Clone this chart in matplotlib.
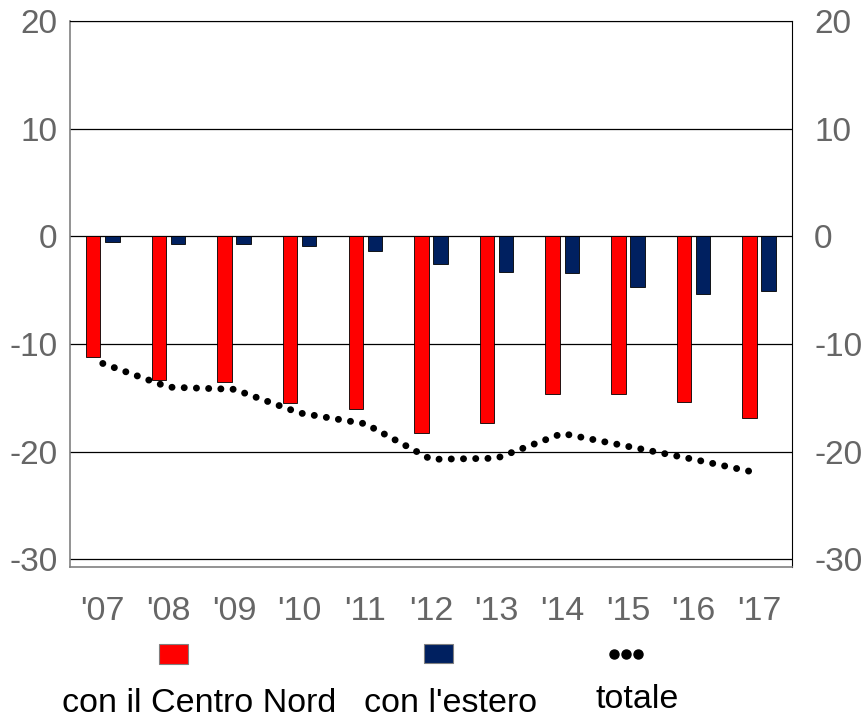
import matplotlib
matplotlib.use("Agg")
import matplotlib.pyplot as plt
from matplotlib.lines import Line2D
from matplotlib.patches import Rectangle

# values
years = ["'07", "'08", "'09", "'10", "'11", "'12", "'13", "'14", "'15", "'16", "'17"]
centro_nord = [-11.2, -13.3, -13.5, -15.5, -16.0, -18.3, -17.3, -14.6, -14.6, -15.4, -16.9]
estero = [-0.5, -0.7, -0.7, -0.85, -1.4, -2.6, -3.3, -3.4, -4.7, -5.35, -5.1]
totale = [-11.8, -14.0, -14.2, -16.4, -17.4, -20.7, -20.6, -18.3, -19.5, -20.7, -22.0]
y_ticks = [-30, -20, -10, 0, 10, 20]
legend_labels = ["con il Centro Nord", "con l'estero", "totale"]

RED = "#ff0000"
NAVY = "#002060"
TICK_GREY = "#666666"
SPINE_GREY = "#808080"
FONT = ["Liberation Sans", "Arial", "DejaVu Sans"]
DOTS = dict(color="black", linewidth=5, linestyle=(0, (0.01, 1.75)),
            dash_capstyle="round")

plt.rcParams["font.family"] = FONT
plt.rcParams["axes.unicode_minus"] = False

fig = plt.figure(figsize=(8.66, 7.19), dpi=100, facecolor="white")
ax = fig.add_axes([0.0808, 0.2114, 0.8337, 0.7594])

x = list(range(len(years)))
w = 0.22
ax.bar([i - 0.145 for i in x], centro_nord, width=w, color=RED,
       edgecolor="black", linewidth=0.6, zorder=2)
ax.bar([i + 0.145 for i in x], estero, width=w, color=NAVY,
       edgecolor="black", linewidth=0.6, zorder=2)
ax.plot(x, totale, zorder=3, **DOTS)

ax.set_xlim(-0.5, len(years) - 0.5)
ax.set_ylim(-30.7, 20)
ax.set_yticks(y_ticks)
ax.set_xticks(x)
ax.set_xticklabels(years)
ax.yaxis.grid(True, color="black", linewidth=0.9, zorder=0)
ax.set_axisbelow(True)
ax.tick_params(axis="x", length=0, pad=21, labelsize=24.5, labelcolor=TICK_GREY)
ax.tick_params(axis="y", length=0, pad=9, labelsize=24, labelcolor=TICK_GREY)
for side in ("left", "bottom"):
    ax.spines[side].set_color(SPINE_GREY)
    ax.spines[side].set_linewidth(1.2)
ax.spines["top"].set_color("black")
ax.spines["right"].set_color("black")

# right-hand copy of the y axis
ax2 = ax.twinx()
ax2.set_ylim(ax.get_ylim())
ax2.set_yticks(y_ticks)
ax2.tick_params(axis="y", length=0, pad=16, labelsize=24, labelcolor=TICK_GREY)
for spine in ax2.spines.values():
    spine.set_visible(False)

# legend: keys in a row, labels underneath
fig.add_artist(Rectangle((159 / 866, 1 - 664 / 719), 29 / 866, 20 / 719,
                         transform=fig.transFigure, facecolor=RED,
                         edgecolor=SPINE_GREY, linewidth=0.8))
fig.add_artist(Rectangle((424 / 866, 1 - 663 / 719), 29 / 866, 19 / 719,
                         transform=fig.transFigure, facecolor=NAVY,
                         edgecolor=SPINE_GREY, linewidth=0.8))
key_y = 1 - 654 / 719
fig.add_artist(Line2D([614 / 866, 626 / 866, 638 / 866], [key_y] * 3,
                      transform=fig.transFigure, linestyle="none",
                      marker="o", markersize=6.5, color="black"))

label_x = [199, 451, 637]
label_y = [712, 712, 708]
for text, lx, ly in zip(legend_labels, label_x, label_y):
    fig.text(lx / 866, 1 - ly / 719, text, ha="center", va="baseline",
             fontsize=24.5, color="black")

fig.savefig("out.png", dpi=100, facecolor="white")
